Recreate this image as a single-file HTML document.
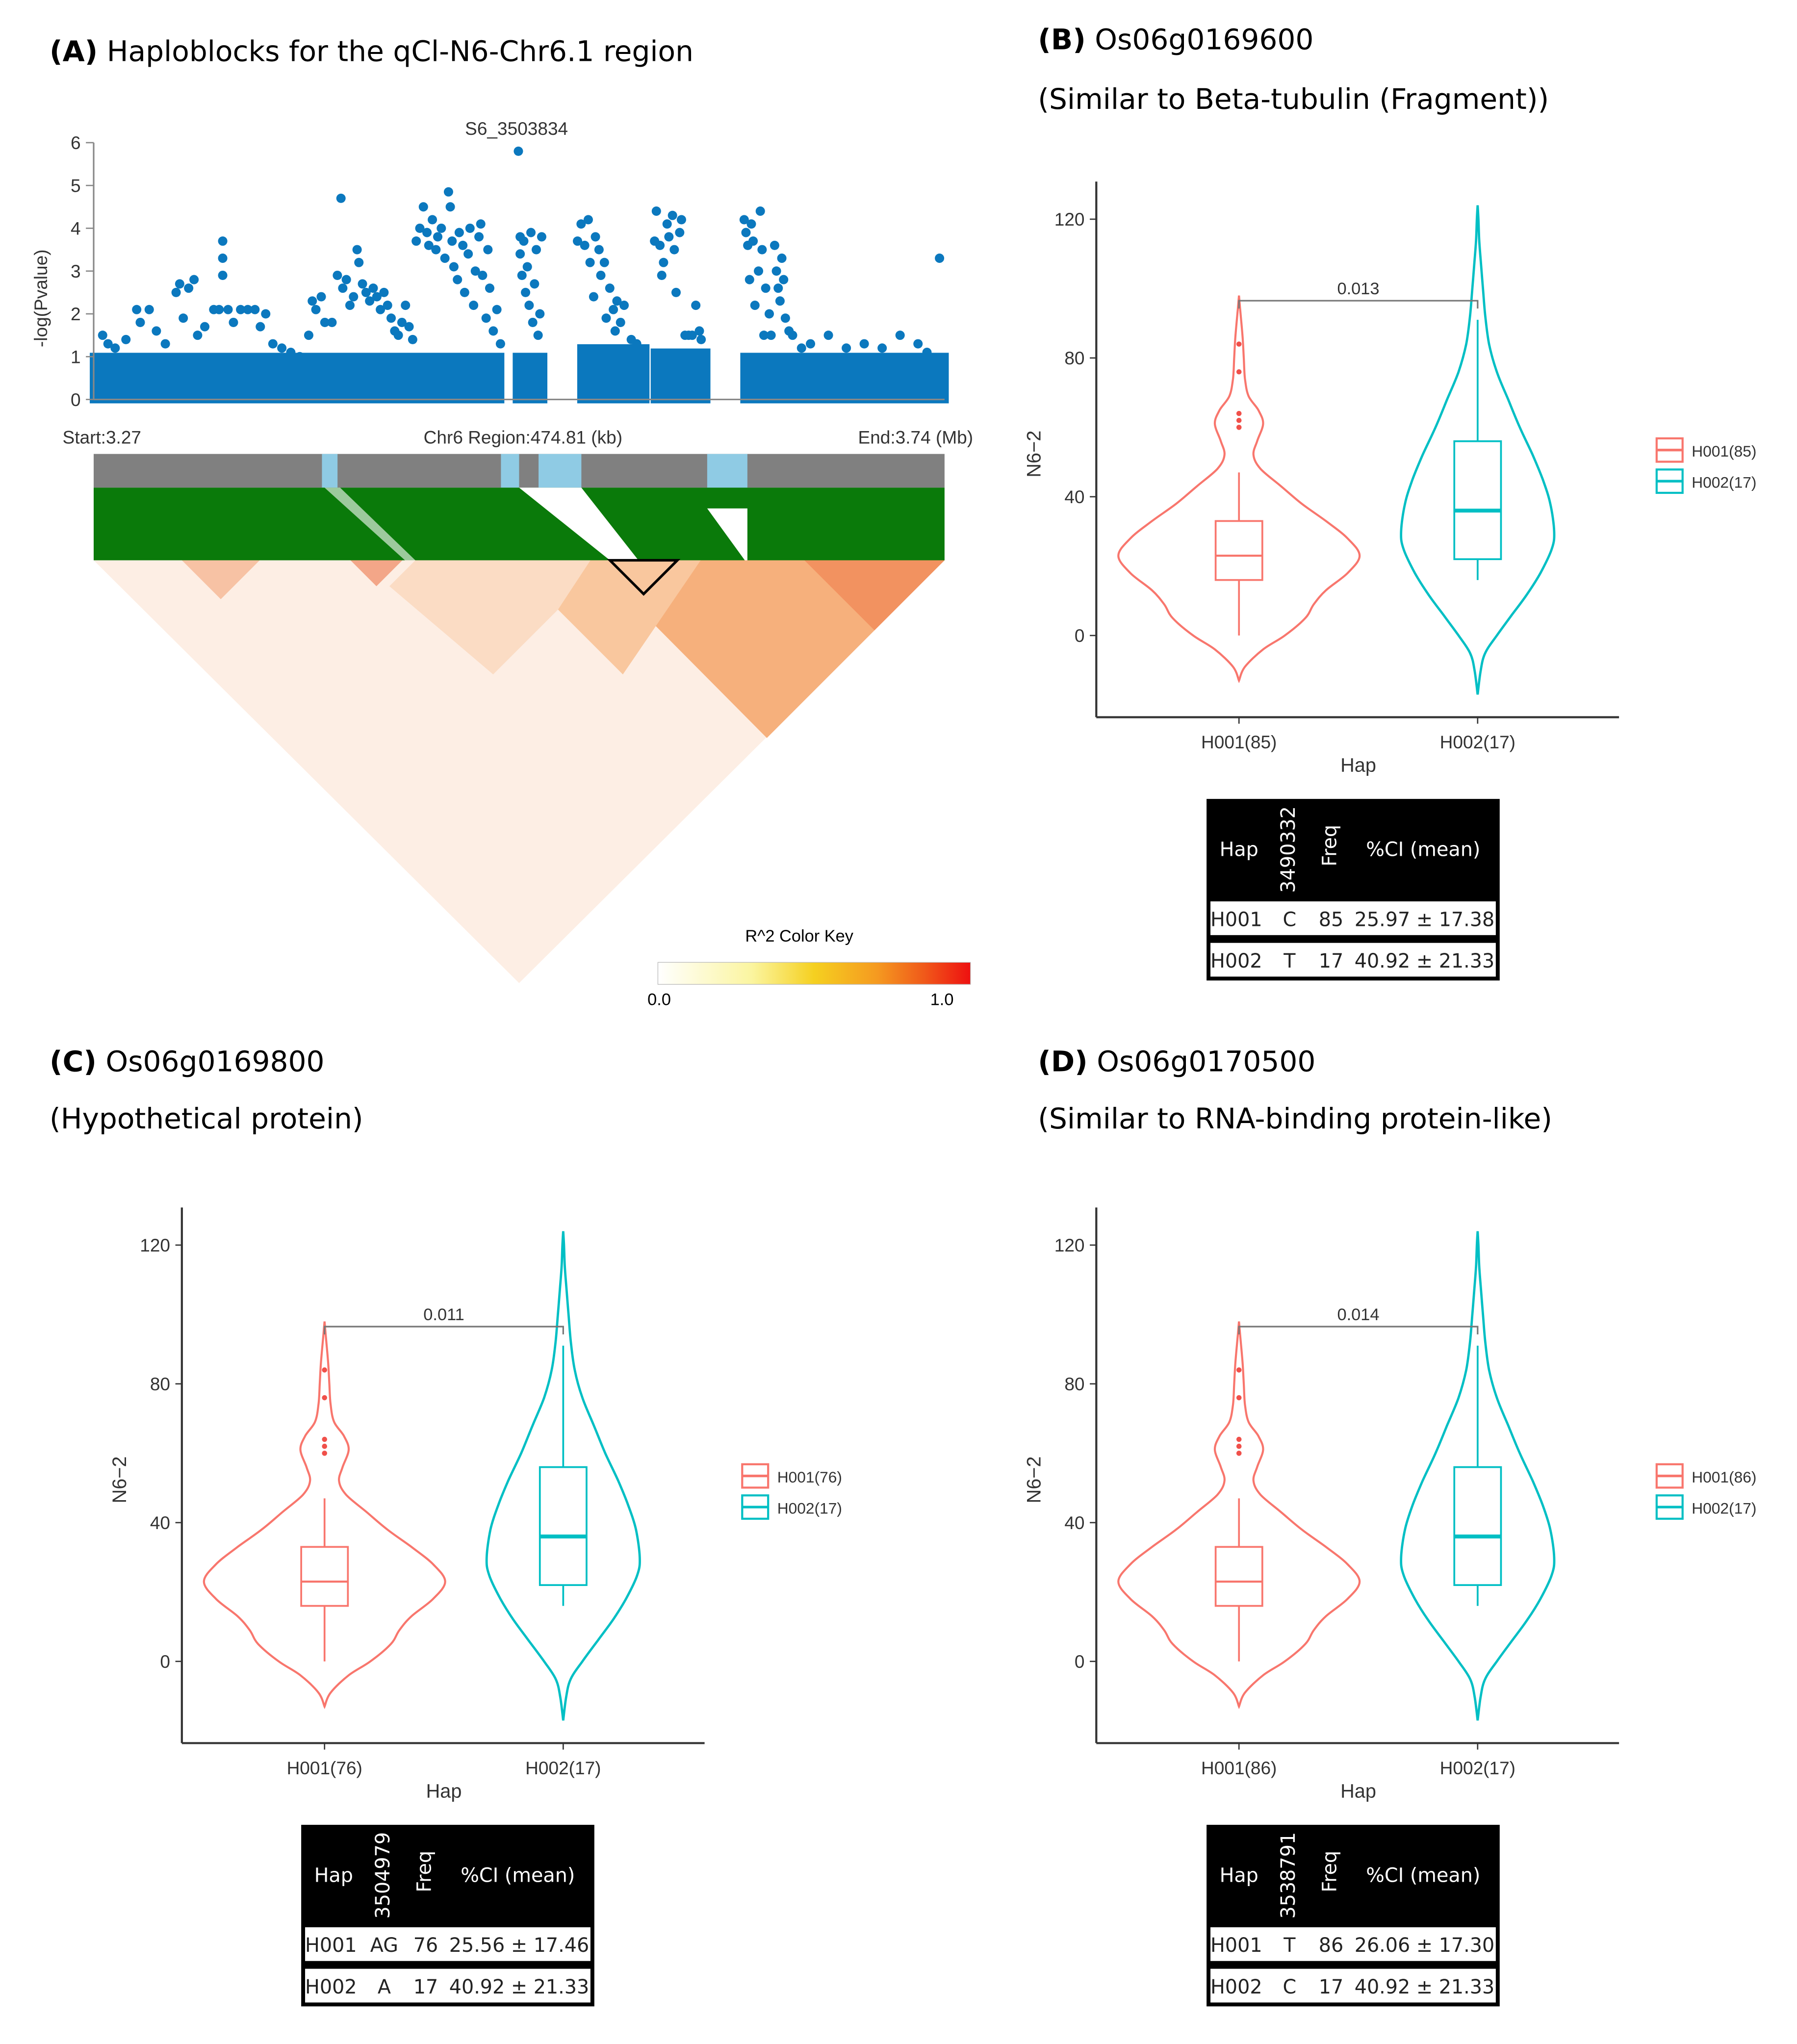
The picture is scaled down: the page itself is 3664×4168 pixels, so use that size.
<!DOCTYPE html>
<html><head><meta charset="utf-8"><style>
html,body{margin:0;padding:0;background:#fff}
svg{display:block}
text{font-family:"Liberation Sans",sans-serif}
.t{font-family:"DejaVu Sans","Liberation Sans",sans-serif}
</style></head><body>
<svg id="root" width="3664" height="4168" viewBox="0 0 1385 1576" xmlns="http://www.w3.org/2000/svg">
<defs>
<linearGradient id="ck" x1="0" x2="1" y1="0" y2="0">
<stop offset="0" stop-color="#ffffff"/><stop offset="0.3" stop-color="#fbf5a0"/><stop offset="0.5" stop-color="#f5d020"/><stop offset="0.7" stop-color="#f59a20"/><stop offset="0.85" stop-color="#f05a1a"/><stop offset="1" stop-color="#ee1010"/>
</linearGradient>
</defs>
<rect width="1385" height="1576" fill="#fff"/>
<text x="38" y="47" font-size="22" class="t"><tspan font-weight="bold">(A)</tspan> Haploblocks for the qCl-N6-Chr6.1 region</text>
<text x="800" y="38" font-size="22" class="t"><tspan font-weight="bold">(B)</tspan> Os06g0169600</text>
<text x="800" y="84" font-size="22" class="t">(Similar to Beta-tubulin (Fragment))</text>
<text x="38" y="826" font-size="22" class="t"><tspan font-weight="bold">(C)</tspan> Os06g0169800</text>
<text x="38" y="870" font-size="22" class="t">(Hypothetical protein)</text>
<text x="800" y="826" font-size="22" class="t"><tspan font-weight="bold">(D)</tspan> Os06g0170500</text>
<text x="800" y="870" font-size="22" class="t">(Similar to RNA-binding protein-like)</text>

<g id="manhattan"></g>
<g id="ld">
  <rect x="72" y="350" width="656" height="26" fill="#808080"/>
  <rect x="248" y="350" width="12" height="26" fill="#8fcbe4"/>
  <rect x="386" y="350" width="14" height="26" fill="#8fcbe4"/>
  <rect x="415" y="350" width="33" height="26" fill="#8fcbe4"/>
  <rect x="545" y="350" width="31" height="42" fill="#8fcbe4"/>
  <rect x="72" y="376" width="656" height="56" fill="#0a7a0a"/>
  <polygon points="545,392 576,392 576,432 574,432" fill="#fff"/>
  <polygon points="400,376 448,376 492,432 470,432" fill="#fff"/>
  <polygon points="250,376 262,376 320,432 312,432" fill="#fff" opacity="0.6"/>
  <polygon points="72,432 728,432 400,758" fill="#fdeee4"/>
  <polygon points="455,432 728,432 591,569" fill="#f6b07c"/>
  <polygon points="440,432 540,432 480,520 430,470" fill="#f9c79e"/>
  <polygon points="320,432 455,432 430,470 380,520 300,452" fill="#fbdcc4"/>
  <polygon points="620,432 728,432 674,486" fill="#f29260"/>
  <polygon points="140,432 200,432 170,462" fill="#f7c2a4"/>
  <polygon points="270,432 310,432 290,452" fill="#f3a688"/>
  <polygon points="470,432 522,432 496,458" fill="none" stroke="#000" stroke-width="2"/>
  <text x="616" y="726" font-size="13" text-anchor="middle">R^2 Color Key</text>
  <rect x="507" y="742" width="241" height="17" fill="url(#ck)" stroke="#bbb" stroke-width="0.5"/>
  <text x="508" y="775" font-size="13" text-anchor="middle">0.0</text>
  <text x="726" y="775" font-size="13" text-anchor="middle">1.0</text>
</g>
<g id="panels"></g>
</svg>

<script>
// ---- Manhattan data ----
const snpPosKb=[5,8,12,18,24,26,31,35,40,46,48,50,53,56,58,62,67,70,72,72,72,75,78,82,86,90,93,96,100,105,110,115,120,122,124,127,129,133,136,138,139,141,143,145,147,148,150,152,154,156,158,160,162,164,166,168,170,172,174,176,178,180,182,184,186,187,189,191,192,194,196,198,199,200,201,203,204,206,207,209,210,212,213,215,216,217,219,220,221,223,225,227,237,238,238,239,240,241,242,243,244,245,246,247,248,249,250,270,272,274,276,277,279,280,282,283,285,286,288,290,291,292,294,296,300,303,313,314,316,317,318,320,321,323,324,325,327,328,330,332,334,336,338,339,363,364,365,366,367,368,369,371,372,373,374,375,377,378,380,381,382,383,384,385,386,388,390,395,400,410,420,430,440,450,460,465,472];
const snpLogP=[1.5,1.3,1.2,1.4,2.1,1.8,2.1,1.6,1.3,2.5,2.7,1.9,2.6,2.8,1.5,1.7,2.1,2.1,3.7,3.3,2.9,2.1,1.8,2.1,2.1,2.1,1.7,2.0,1.3,1.2,1.1,1.0,1.5,2.3,2.1,2.4,1.8,1.8,2.9,4.7,2.6,2.8,2.2,2.4,3.5,3.2,2.7,2.5,2.3,2.6,2.4,2.1,2.5,2.2,1.9,1.6,1.5,1.8,2.2,1.7,1.4,3.7,4.0,4.5,3.9,3.6,4.2,3.5,3.8,4.0,3.3,4.85,4.5,3.7,3.1,2.8,3.9,3.6,2.5,3.4,4.0,2.2,3.0,3.8,4.1,2.9,1.9,3.5,2.6,1.6,2.1,1.3,5.8,3.8,3.4,2.9,3.7,2.5,3.1,2.2,3.9,1.8,2.7,3.5,1.5,2.0,3.8,3.7,4.1,3.6,4.2,3.2,2.4,3.8,3.5,2.9,3.2,1.9,2.6,2.1,1.6,2.3,1.8,2.2,1.4,1.3,3.7,4.4,3.6,2.9,3.2,4.1,3.8,4.3,3.5,2.5,3.9,4.2,1.5,1.5,1.5,2.2,1.6,1.4,4.2,3.9,3.6,2.8,4.1,3.7,2.2,3.0,4.4,3.5,1.5,2.6,2.0,1.5,3.6,3.0,2.6,2.3,3.3,2.8,1.9,1.6,1.5,1.2,1.3,1.5,1.2,1.3,1.2,1.5,1.3,1.1,3.3];
const bandStartKb=[0,236,272,313,363];
const bandEndKb=[227,251,308,342,475];
const bandTopP=[1.0,1.0,1.2,1.1,1.0];
const yTicks=[0,1,2,3,4,5,6];

// ---- Violin data ----
const violinTicks=[0,40,80,120];
const h1ProfileVal=[-13,-9,-4,0,5,9,13,18,23,28,33,38,43,48,52,56,61,65,69,74,80,86,92,98];
const h1ProfileDens=[0,0.05,0.2,0.38,0.55,0.62,0.72,0.9,1.0,0.9,0.72,0.52,0.35,0.18,0.12,0.15,0.2,0.16,0.08,0.05,0.04,0.03,0.015,0];
const h2ProfileVal=[-17,-10,-5,0,6,12,18,25,30,38,45,52,60,68,76,84,92,100,108,114,120,124];
const h2ProfileDens=[0,0.04,0.1,0.25,0.45,0.65,0.82,0.97,1.0,0.95,0.85,0.72,0.55,0.4,0.25,0.15,0.1,0.07,0.04,0.02,0.01,0];
const h1Box=[0,16,23,33,47];
const h2Box=[16,22,36,56,91];
const h1Outliers=[60,62,64,76,84];
const panelCats=[["H001(85)","H002(17)"],["H001(76)","H002(17)"],["H001(86)","H002(17)"]];
const panelP=["0.013","0.011","0.014"];
const tableSnp=["3490332","3504979","3538791"];
const tableAllele=[["C","T"],["AG","A"],["T","C"]];
const tableFreq=[["85","17"],["76","17"],["86","17"]];
const tableCI=[["25.97 ± 17.38","40.92 ± 21.33"],["25.56 ± 17.46","40.92 ± 21.33"],["26.06 ± 17.30","40.92 ± 21.33"]];

const NS="http://www.w3.org/2000/svg";
function mk(tag,attrs,parent,txt){const el=document.createElementNS(NS,tag);for(const k in attrs)el.setAttribute(k,attrs[k]);if(txt!==undefined)el.textContent=txt;parent.appendChild(el);return el;}
const mx=kb=>72+kb/474.81*656;
const my=p=>308-p*33;
const M=document.getElementById('manhattan');
let e;
for(let i=0;i<bandStartKb.length;i++){
  e=mk('rect',{x:mx(bandStartKb[i])-3,y:my(bandTopP[i])-3,width:mx(bandEndKb[i])-mx(bandStartKb[i])+6,height:(my(0)-my(bandTopP[i]))+6,fill:'#0b78be'},M);
  
  
}
for(let i=0;i<snpPosKb.length;i++){
  e=mk('circle',{cx:mx(snpPosKb[i]),cy:my(snpLogP[i]),r:3.6,fill:'#0b78be'},M);
  
  
}
e=mk('line',{x1:72,y1:my(6),x2:72,y2:my(0),stroke:'#888','stroke-width':1.2},M);


e=mk('line',{x1:72,y1:my(0),x2:728,y2:my(0),stroke:'#888','stroke-width':1.2},M);


for(const t of yTicks){
  e=mk('line',{x1:66,y1:my(t),x2:72,y2:my(t),stroke:'#888'},M);
  
  
  e=mk('text',{x:62,y:my(t)+5,'font-size':14,'text-anchor':'end',fill:'#333'},M,String(t));
  
  
}
e=mk('text',{x:36,y:230,'font-size':14,'text-anchor':'middle',fill:'#333',transform:'rotate(-90 36 230)'},M,'-log(Pvalue)');


e=mk('text',{x:398,y:104,'font-size':14,'text-anchor':'middle',fill:'#333'},M,'S6_3503834');


e=mk('text',{x:48,y:342,'font-size':14,fill:'#333'},M,'Start:3.27');


e=mk('text',{x:403,y:342,'font-size':14,'text-anchor':'middle',fill:'#333'},M,'Chr6 Region:474.81 (kb)');


e=mk('text',{x:750,y:342,'font-size':14,'text-anchor':'end',fill:'#333'},M,'End:3.74 (Mb)');



const P=document.getElementById('panels');
const offsets=[[0,0,0],[-705,791,7],[0,791,0]];
const PINK='#f8766d',TEAL='#00bfc4';
function smooth(pts){
  let d='M'+pts[0][0].toFixed(1)+','+pts[0][1].toFixed(1);
  for(let i=0;i<pts.length-1;i++){
    const p0=pts[Math.max(0,i-1)],p1=pts[i],p2=pts[i+1],p3=pts[Math.min(pts.length-1,i+2)];
    const c1x=p1[0]+(p2[0]-p0[0])/6,c1y=p1[1]+(p2[1]-p0[1])/6;
    const c2x=p2[0]-(p3[0]-p1[0])/6,c2y=p2[1]-(p3[1]-p1[1])/6;
    d+=' C'+c1x.toFixed(1)+','+c1y.toFixed(1)+' '+c2x.toFixed(1)+','+c2y.toFixed(1)+' '+p2[0].toFixed(1)+','+p2[1].toFixed(1);
  }
  return d;
}
function violinPath(cx,vals,dens,maxW,vy){
  const r=[],l=[];
  for(let i=0;i<vals.length;i++){r.push([cx+dens[i]*maxW,vy(vals[i])]);}
  for(let i=vals.length-1;i>=0;i--){l.push([cx-dens[i]*maxW,vy(vals[i])]);}
  return smooth(r)+' '+smooth(l).replace(/^M/,'L')+'Z';
}
function box(g,cx,b,col,vy,hw,medW){
  let el=mk('line',{x1:cx,y1:vy(b[0]),x2:cx,y2:vy(b[1]),stroke:col,'stroke-width':1.4},g);
  
  
  el=mk('line',{x1:cx,y1:vy(b[3]),x2:cx,y2:vy(b[4]),stroke:col,'stroke-width':1.4},g);
  
  
  el=mk('rect',{x:cx-hw,y:vy(b[3]),width:2*hw,height:vy(b[1])-vy(b[3]),fill:'#fff',stroke:col,'stroke-width':1.4},g);
  
  
  el=mk('line',{x1:cx-hw,y1:vy(b[2]),x2:cx+hw,y2:vy(b[2]),stroke:col,'stroke-width':medW},g);
  
  
}
for(let p=0;p<3;p++){
  const dx=offsets[p][0],dy=offsets[p][1],tdx=offsets[p][2];
  const g=mk('g',{},P);
  
  
  const vy=v=>490-v*2.675+dy;
  const x1=955+dx,x2=1139+dx;
  let el=mk('line',{x1:845+dx,y1:140+dy,x2:845+dx,y2:553+dy,stroke:'#333','stroke-width':1.6},g);
  
  
  el=mk('line',{x1:845+dx,y1:553+dy,x2:1248+dx,y2:553+dy,stroke:'#333','stroke-width':1.6},g);
  
  
  for(const t of violinTicks){
    el=mk('line',{x1:840+dx,y1:vy(t),x2:845+dx,y2:vy(t),stroke:'#333'},g);
    
    
    el=mk('text',{x:836+dx,y:vy(t)+5,'font-size':14,'text-anchor':'end',fill:'#333'},g,String(t));
    
    
  }
  [x1,x2].forEach((cx,i)=>{
    let t1=mk('line',{x1:cx,y1:553+dy,x2:cx,y2:558+dy,stroke:'#333'},g);
    
    
    t1=mk('text',{x:cx,y:577+dy,'font-size':14,'text-anchor':'middle',fill:'#333'},g,panelCats[p][i]);
    
    
  });
  el=mk('text',{x:1047+dx,y:595+dy,'font-size':15,'text-anchor':'middle',fill:'#333'},g,'Hap');
  
  
  el=mk('text',{x:802+dx,y:350+dy,'font-size':15,'text-anchor':'middle',fill:'#333',transform:'rotate(-90 '+(802+dx)+' '+(350+dy)+')'},g,'N6−2');
  
  
  el=mk('path',{d:violinPath(x1,h1ProfileVal,h1ProfileDens,93,vy),fill:'none',stroke:PINK,'stroke-width':1.6},g);
  
  
  el=mk('path',{d:violinPath(x2,h2ProfileVal,h2ProfileDens,59,vy),fill:'none',stroke:TEAL,'stroke-width':1.8},g);
  
  
  box(g,x1,h1Box,PINK,vy,18,1.6);
  box(g,x2,h2Box,TEAL,vy,18,3);
  for(const o of h1Outliers){
    el=mk('circle',{cx:x1,cy:vy(o),r:2,fill:'#f0504a'},g);
    
    
  }
  const by=vy(96.5);
  el=mk('path',{d:'M'+x1+','+(by+6)+' L'+x1+','+by+' L'+x2+','+by+' L'+x2+','+(by+6),fill:'none',stroke:'#777','stroke-width':1.2},g);
  
  
  el=mk('text',{x:(x1+x2)/2,y:by-5,'font-size':13,'text-anchor':'middle',fill:'#333'},g,panelP[p]);
  
  
  [[PINK,panelCats[p][0],347],[TEAL,panelCats[p][1],371]].forEach((it)=>{
    const c=it[0],l=it[1],ly=it[2];
    let q=mk('rect',{x:1277+dx,y:ly-9+dy,width:20,height:18,fill:'#fff',stroke:c,'stroke-width':1.6},g);
    
    
    q=mk('line',{x1:1277+dx,y1:ly+dy,x2:1297+dx,y2:ly+dy,stroke:c,'stroke-width':2},g);
    
    
    q=mk('text',{x:1304+dx,y:ly+5+dy,'font-size':12,fill:'#333'},g,l);
    
    
  });
  const tx=930+dx+tdx, ty=616+dy;
  const tg=mk('g',{},g);
  
  
  el=mk('rect',{x:tx,y:ty,width:226,height:140,fill:'#000'},tg);
  
  
  el=mk('rect',{x:tx+3,y:ty+79,width:220,height:26,fill:'#fff'},tg);
  
  
  el=mk('rect',{x:tx+3,y:ty+111,width:220,height:26,fill:'#fff'},tg);
  
  
  const tf='font-family:"DejaVu Sans","Liberation Sans",sans-serif';
  el=mk('text',{x:tx+25,y:ty+44,'font-size':15,'text-anchor':'middle',fill:'#fff',style:tf},tg,'Hap');
  
  
  el=mk('text',{x:tx+63,y:ty+44,'font-size':15,'text-anchor':'middle',fill:'#fff',style:tf,transform:'rotate(-90 '+(tx+63)+' '+(ty+39)+')'},tg,tableSnp[p]);
  
  
  el=mk('text',{x:tx+95,y:ty+41,'font-size':15,'text-anchor':'middle',fill:'#fff',style:tf,transform:'rotate(-90 '+(tx+95)+' '+(ty+36)+')'},tg,'Freq');
  
  
  el=mk('text',{x:tx+167,y:ty+44,'font-size':15,'text-anchor':'middle',fill:'#fff',style:tf},tg,'%CI (mean)');
  
  
  ['H001','H002'].forEach((h,i)=>{
    const ry=ty+98+i*32;
    let c=mk('text',{x:tx+3,y:ry,'font-size':15,fill:'#222',style:tf},tg,h);
    
    
    c=mk('text',{x:tx+64,y:ry,'font-size':15,'text-anchor':'middle',fill:'#222',style:tf},tg,tableAllele[p][i]);
    
    
    c=mk('text',{x:tx+96,y:ry,'font-size':15,'text-anchor':'middle',fill:'#222',style:tf},tg,tableFreq[p][i]);
    
    
    c=mk('text',{x:tx+222,y:ry,'font-size':15,'text-anchor':'end',fill:'#222',style:tf},tg,tableCI[p][i]);
    
    
  });
}
</script>
</body></html>
